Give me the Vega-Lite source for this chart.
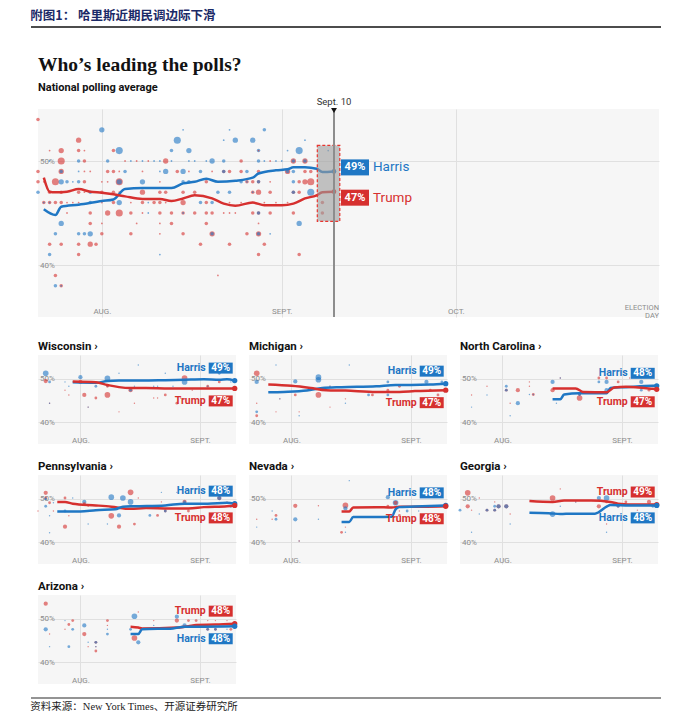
{
"$schema":"https://vega.github.io/schema/vega-lite/v6.json",
"background":"white",
"padding":{"left":30,"top":9,"right":5,"bottom":4},
"spacing":21,
"resolve":{"scale":{"size":"independent"}},
"config":{
 "view":{"stroke":null,"fill":"#f6f6f6"},
 "font":"Roboto",
 "axis":{"domain":false,"ticks":false,"tickSize":0,"grid":true,"gridColor":"#e0e0e0","gridWidth":1,"labelColor":"#8c8c8c","labelFont":"Roboto","labelFontSize":8,"labelOverlap":false,"labelFlush":false},
 "title":{"anchor":"start","frame":"group"}
},
"datasets":{
"natDots":[
{"c":"T","d":"2024-07-21","v":54,"z":2},
{"c":"H","d":"2024-08-01","v":53,"z":3},{"c":"H","d":"2024-08-15","v":53,"z":1},{"c":"H","d":"2024-08-23","v":53,"z":1},{"c":"H","d":"2024-08-29","v":53,"z":2},
{"c":"T","d":"2024-07-28","v":52,"z":3},{"c":"H","d":"2024-08-14","v":52,"z":4},{"c":"H","d":"2024-08-22","v":52,"z":1},{"c":"H","d":"2024-08-24","v":52,"z":3},{"c":"H","d":"2024-08-27","v":52,"z":3},{"c":"H","d":"2024-09-05","v":52,"z":1},
{"c":"T","d":"2024-07-23","v":51,"z":1},{"c":"T","d":"2024-07-25","v":51,"z":3},{"c":"T","d":"2024-07-28","v":51,"z":2},{"c":"T","d":"2024-07-29","v":51,"z":1},{"c":"T","d":"2024-08-03","v":51,"z":2},{"c":"H","d":"2024-08-04","v":51,"z":4},{"c":"H","d":"2024-08-13","v":51,"z":2},{"c":"H","d":"2024-08-16","v":51,"z":3},{"c":"H","d":"2024-08-28","v":51,"z":2},{"c":"T","d":"2024-08-28","v":51,"z":1},{"c":"H","d":"2024-09-02","v":51,"z":1},{"c":"H","d":"2024-09-04","v":51,"z":4},{"c":"H","d":"2024-09-09","v":51,"z":1},
{"c":"H","d":"2024-07-23","v":50,"z":1},{"c":"T","d":"2024-07-25","v":50,"z":4},{"c":"H","d":"2024-07-28","v":50,"z":2},{"c":"T","d":"2024-07-29","v":50,"z":2},{"c":"H","d":"2024-08-02","v":50,"z":2},{"c":"T","d":"2024-08-05","v":50,"z":1},{"c":"H","d":"2024-08-06","v":50,"z":1},{"c":"T","d":"2024-08-07","v":50,"z":1},{"c":"H","d":"2024-08-08","v":50,"z":1},{"c":"T","d":"2024-08-09","v":50,"z":1},{"c":"H","d":"2024-08-10","v":50,"z":1},{"c":"H","d":"2024-08-11","v":50,"z":1},{"c":"T","d":"2024-08-12","v":50,"z":3},{"c":"H","d":"2024-08-13","v":50,"z":1},{"c":"H","d":"2024-08-16","v":50,"z":1},{"c":"H","d":"2024-08-17","v":50,"z":1},{"c":"H","d":"2024-08-19","v":50,"z":1},{"c":"H","d":"2024-08-20","v":50,"z":3},{"c":"H","d":"2024-08-22","v":50,"z":2},{"c":"T","d":"2024-08-25","v":50,"z":2},{"c":"H","d":"2024-08-28","v":50,"z":2},{"c":"H","d":"2024-08-29","v":50,"z":1},{"c":"T","d":"2024-08-30","v":50,"z":1},{"c":"H","d":"2024-08-31","v":50,"z":1},{"c":"H","d":"2024-09-01","v":50,"z":1},{"c":"T","d":"2024-09-03","v":50,"z":3},{"c":"H","d":"2024-09-03","v":50,"z":2},{"c":"T","d":"2024-09-05","v":50,"z":3},{"c":"H","d":"2024-09-05","v":50,"z":2},
{"c":"T","d":"2024-07-21","v":49,"z":2},{"c":"T","d":"2024-07-25","v":49,"z":3},{"c":"H","d":"2024-07-25","v":49,"z":2},{"c":"H","d":"2024-07-28","v":49,"z":1},{"c":"T","d":"2024-07-29","v":49,"z":1},{"c":"T","d":"2024-07-30","v":49,"z":1},{"c":"T","d":"2024-08-02","v":49,"z":2},{"c":"T","d":"2024-08-03","v":49,"z":2},{"c":"T","d":"2024-08-04","v":49,"z":1},{"c":"H","d":"2024-08-05","v":49,"z":2},{"c":"T","d":"2024-08-08","v":49,"z":1},{"c":"H","d":"2024-08-11","v":49,"z":1},{"c":"H","d":"2024-08-12","v":49,"z":3},{"c":"T","d":"2024-08-14","v":49,"z":2},{"c":"H","d":"2024-08-15","v":49,"z":3},{"c":"T","d":"2024-08-16","v":49,"z":1},{"c":"H","d":"2024-08-18","v":49,"z":2},{"c":"T","d":"2024-08-20","v":49,"z":1},{"c":"T","d":"2024-08-22","v":49,"z":2},{"c":"H","d":"2024-08-22","v":49,"z":2},{"c":"T","d":"2024-08-23","v":49,"z":2},{"c":"T","d":"2024-08-25","v":49,"z":2},{"c":"H","d":"2024-08-26","v":49,"z":2},{"c":"T","d":"2024-08-28","v":49,"z":2},{"c":"T","d":"2024-09-02","v":49,"z":3},{"c":"H","d":"2024-09-02","v":49,"z":2},{"c":"H","d":"2024-09-03","v":49,"z":2},{"c":"T","d":"2024-09-05","v":49,"z":2},{"c":"T","d":"2024-09-06","v":49,"z":2},
{"c":"T","d":"2024-07-21","v":48,"z":2},{"c":"T","d":"2024-07-22","v":48,"z":1},{"c":"T","d":"2024-07-24","v":48,"z":4},{"c":"H","d":"2024-07-25","v":48,"z":3},{"c":"H","d":"2024-07-26","v":48,"z":2},{"c":"H","d":"2024-07-27","v":48,"z":1},{"c":"H","d":"2024-07-28","v":48,"z":2},{"c":"T","d":"2024-07-29","v":48,"z":2},{"c":"T","d":"2024-08-01","v":48,"z":1},{"c":"T","d":"2024-08-02","v":48,"z":1},{"c":"T","d":"2024-08-04","v":48,"z":4},{"c":"H","d":"2024-08-04","v":48,"z":3},{"c":"H","d":"2024-08-08","v":48,"z":3},{"c":"T","d":"2024-08-11","v":48,"z":1},{"c":"H","d":"2024-08-15","v":48,"z":2},{"c":"H","d":"2024-08-16","v":48,"z":2},{"c":"T","d":"2024-08-19","v":48,"z":2},{"c":"H","d":"2024-08-25","v":48,"z":2},{"c":"T","d":"2024-08-26","v":48,"z":2},{"c":"H","d":"2024-08-26","v":48,"z":1},{"c":"T","d":"2024-08-27","v":48,"z":2},{"c":"T","d":"2024-08-28","v":48,"z":2},{"c":"H","d":"2024-08-28","v":48,"z":2},{"c":"T","d":"2024-08-30","v":48,"z":1},{"c":"H","d":"2024-09-03","v":48,"z":2},{"c":"T","d":"2024-09-04","v":48,"z":2},{"c":"T","d":"2024-09-05","v":48,"z":3},{"c":"T","d":"2024-09-06","v":48,"z":4},
{"c":"H","d":"2024-07-21","v":47,"z":2},{"c":"T","d":"2024-07-23","v":47,"z":2},{"c":"T","d":"2024-07-25","v":47,"z":2},{"c":"T","d":"2024-07-28","v":47,"z":2},{"c":"T","d":"2024-07-29","v":47,"z":1},{"c":"H","d":"2024-07-30","v":47,"z":2},{"c":"T","d":"2024-08-01","v":47,"z":2},{"c":"T","d":"2024-08-03","v":47,"z":2},{"c":"T","d":"2024-08-04","v":47,"z":1},{"c":"T","d":"2024-08-08","v":47,"z":3},{"c":"T","d":"2024-08-11","v":47,"z":2},{"c":"T","d":"2024-08-12","v":47,"z":2},{"c":"T","d":"2024-08-15","v":47,"z":2},{"c":"T","d":"2024-08-17","v":47,"z":2},{"c":"H","d":"2024-08-21","v":47,"z":2},{"c":"H","d":"2024-08-23","v":47,"z":2},{"c":"T","d":"2024-08-27","v":47,"z":2},{"c":"H","d":"2024-08-27","v":47,"z":1},{"c":"T","d":"2024-08-28","v":47,"z":3},{"c":"T","d":"2024-08-30","v":47,"z":2},{"c":"T","d":"2024-09-03","v":47,"z":2},{"c":"H","d":"2024-09-03","v":47,"z":2},{"c":"T","d":"2024-09-04","v":47,"z":2},{"c":"H","d":"2024-09-06","v":47,"z":4},
{"c":"T","d":"2024-07-22","v":46,"z":2},{"c":"H","d":"2024-07-22","v":46,"z":1},{"c":"T","d":"2024-07-23","v":46,"z":2},{"c":"H","d":"2024-07-23","v":46,"z":1},{"c":"T","d":"2024-07-24","v":46,"z":2},{"c":"T","d":"2024-07-25","v":46,"z":2},{"c":"T","d":"2024-07-26","v":46,"z":1},{"c":"T","d":"2024-07-27","v":46,"z":1},{"c":"T","d":"2024-07-28","v":46,"z":1},{"c":"H","d":"2024-07-30","v":46,"z":2},{"c":"T","d":"2024-08-01","v":46,"z":1},{"c":"T","d":"2024-08-03","v":46,"z":2},{"c":"H","d":"2024-08-04","v":46,"z":3},{"c":"T","d":"2024-08-06","v":46,"z":1},{"c":"T","d":"2024-08-08","v":46,"z":2},{"c":"H","d":"2024-08-09","v":46,"z":1},{"c":"T","d":"2024-08-10","v":46,"z":2},{"c":"T","d":"2024-08-11","v":46,"z":2},{"c":"T","d":"2024-08-12","v":46,"z":1},{"c":"T","d":"2024-08-15","v":46,"z":3},{"c":"H","d":"2024-08-18","v":46,"z":2},{"c":"T","d":"2024-08-19","v":46,"z":2},{"c":"H","d":"2024-08-20","v":46,"z":2},{"c":"T","d":"2024-08-23","v":46,"z":1},{"c":"T","d":"2024-08-25","v":46,"z":1},{"c":"T","d":"2024-08-27","v":46,"z":1},{"c":"T","d":"2024-08-29","v":46,"z":1},{"c":"T","d":"2024-08-31","v":46,"z":1},{"c":"T","d":"2024-09-02","v":46,"z":1},{"c":"T","d":"2024-09-08","v":46,"z":2},
{"c":"T","d":"2024-07-26","v":45,"z":1},{"c":"T","d":"2024-07-30","v":45,"z":2},{"c":"T","d":"2024-08-02","v":45,"z":3},{"c":"T","d":"2024-08-04","v":45,"z":4},{"c":"T","d":"2024-08-06","v":45,"z":2},{"c":"T","d":"2024-08-08","v":45,"z":1},{"c":"H","d":"2024-08-09","v":45,"z":1},{"c":"T","d":"2024-08-11","v":45,"z":2},{"c":"T","d":"2024-08-13","v":45,"z":2},{"c":"T","d":"2024-08-15","v":45,"z":2},{"c":"H","d":"2024-08-15","v":45,"z":1},{"c":"T","d":"2024-08-17","v":45,"z":2},{"c":"T","d":"2024-08-19","v":45,"z":2},{"c":"T","d":"2024-08-20","v":45,"z":2},{"c":"T","d":"2024-08-22","v":45,"z":1},{"c":"T","d":"2024-08-23","v":45,"z":1},{"c":"T","d":"2024-08-24","v":45,"z":1},{"c":"T","d":"2024-08-27","v":45,"z":2},{"c":"T","d":"2024-08-28","v":45,"z":2},{"c":"H","d":"2024-08-28","v":45,"z":2},{"c":"T","d":"2024-08-30","v":45,"z":2},{"c":"T","d":"2024-09-03","v":45,"z":2},{"c":"T","d":"2024-09-08","v":45,"z":2},
{"c":"H","d":"2024-07-25","v":44,"z":3},{"c":"T","d":"2024-07-30","v":44,"z":2},{"c":"T","d":"2024-08-01","v":44,"z":1},{"c":"T","d":"2024-08-07","v":44,"z":1},{"c":"T","d":"2024-08-11","v":44,"z":1},{"c":"T","d":"2024-08-13","v":44,"z":2},{"c":"T","d":"2024-08-19","v":44,"z":2},{"c":"T","d":"2024-08-28","v":44,"z":1},{"c":"H","d":"2024-09-04","v":44,"z":3},
{"c":"H","d":"2024-07-24","v":43,"z":2},{"c":"H","d":"2024-07-28","v":43,"z":2},{"c":"H","d":"2024-07-29","v":43,"z":2},{"c":"H","d":"2024-07-30","v":43,"z":3},{"c":"T","d":"2024-08-01","v":43,"z":2},{"c":"T","d":"2024-08-06","v":43,"z":2},{"c":"T","d":"2024-08-11","v":43,"z":1},{"c":"T","d":"2024-08-15","v":43,"z":2},{"c":"T","d":"2024-08-20","v":43,"z":3},{"c":"H","d":"2024-08-20","v":43,"z":2},{"c":"T","d":"2024-08-26","v":43,"z":2},{"c":"T","d":"2024-08-28","v":43,"z":3},{"c":"H","d":"2024-08-28","v":43,"z":2},{"c":"H","d":"2024-08-30","v":43,"z":1},
{"c":"T","d":"2024-07-23","v":42,"z":2},{"c":"T","d":"2024-07-25","v":42,"z":2},{"c":"T","d":"2024-07-28","v":42,"z":2},{"c":"T","d":"2024-07-30","v":42,"z":3},{"c":"T","d":"2024-07-31","v":42,"z":2},{"c":"T","d":"2024-08-18","v":42,"z":2},{"c":"T","d":"2024-08-23","v":42,"z":2},{"c":"T","d":"2024-08-29","v":42,"z":2},
{"c":"H","d":"2024-07-23","v":41,"z":2},{"c":"T","d":"2024-07-28","v":41,"z":2},{"c":"H","d":"2024-08-11","v":41,"z":1},{"c":"T","d":"2024-08-28","v":41,"z":2},{"c":"T","d":"2024-09-04","v":41,"z":2},
{"c":"T","d":"2024-07-24","v":39,"z":2},{"c":"T","d":"2024-08-21","v":39,"z":1},
{"c":"H","d":"2024-07-24","v":38,"z":2},{"c":"T","d":"2024-07-25","v":38,"z":2},{"c":"H","d":"2024-07-25","v":38,"z":1}
],
"natLines":[
{"c":"H","d":"2024-07-22","v":45.35},{"c":"H","d":"2024-07-24","v":44.8},{"c":"H","d":"2024-07-25","v":45.6},{"c":"H","d":"2024-07-28","v":45.8},{"c":"H","d":"2024-08-01","v":46.15},{"c":"H","d":"2024-08-03","v":46.3},{"c":"H","d":"2024-08-05","v":47.3},{"c":"H","d":"2024-08-08","v":47.4},{"c":"H","d":"2024-08-13","v":47.4},{"c":"H","d":"2024-08-15","v":47.85},{"c":"H","d":"2024-08-17","v":48.0},{"c":"H","d":"2024-08-19","v":48.3},{"c":"H","d":"2024-08-21","v":48.0},{"c":"H","d":"2024-08-24","v":48.1},{"c":"H","d":"2024-08-27","v":48.4},{"c":"H","d":"2024-08-28","v":48.8},{"c":"H","d":"2024-08-31","v":49.1},{"c":"H","d":"2024-09-02","v":49.2},{"c":"H","d":"2024-09-03","v":49.4},{"c":"H","d":"2024-09-05","v":49.4},{"c":"H","d":"2024-09-07","v":49.25},{"c":"H","d":"2024-09-08","v":48.95},{"c":"H","d":"2024-09-10","v":49.0},
{"c":"T","d":"2024-07-22","v":48.4},{"c":"T","d":"2024-07-23","v":47.05},{"c":"T","d":"2024-07-24","v":47.0},{"c":"T","d":"2024-07-26","v":47.05},{"c":"T","d":"2024-07-28","v":47.3},{"c":"T","d":"2024-07-30","v":47.05},{"c":"T","d":"2024-08-01","v":46.95},{"c":"T","d":"2024-08-03","v":46.8},{"c":"T","d":"2024-08-05","v":46.6},{"c":"T","d":"2024-08-08","v":46.35},{"c":"T","d":"2024-08-11","v":46.35},{"c":"T","d":"2024-08-13","v":46.15},{"c":"T","d":"2024-08-15","v":46.4},{"c":"T","d":"2024-08-17","v":46.7},{"c":"T","d":"2024-08-20","v":46.4},{"c":"T","d":"2024-08-22","v":45.9},{"c":"T","d":"2024-08-24","v":45.7},{"c":"T","d":"2024-08-27","v":46.0},{"c":"T","d":"2024-08-29","v":45.75},{"c":"T","d":"2024-09-01","v":45.75},{"c":"T","d":"2024-09-03","v":45.9},{"c":"T","d":"2024-09-05","v":46.4},{"c":"T","d":"2024-09-07","v":46.7},{"c":"T","d":"2024-09-08","v":47.0},{"c":"T","d":"2024-09-10","v":47.05}
],
"natLabs":[
{"c":"H","d":"2024-09-10","v":49.0,"p":"49%","n":"Harris","l":true},
{"c":"T","d":"2024-09-10","v":47.05,"p":"47%","n":"Trump","l":false}
],
"states":[
{"g":"WI","k":"p","c":"H","d":"2024-07-23","v":51.3,"z":4},{"g":"WI","k":"p","c":"T","d":"2024-07-23","v":49.5,"z":3},{"g":"WI","k":"p","c":"H","d":"2024-07-24","v":49.3,"z":2},{"g":"WI","k":"p","c":"T","d":"2024-07-24","v":44.4,"z":1},{"g":"WI","k":"p","c":"H","d":"2024-07-24","v":44.4,"z":1},{"g":"WI","k":"p","c":"H","d":"2024-07-28","v":49.3,"z":1},{"g":"WI","k":"p","c":"T","d":"2024-07-28","v":47.4,"z":1},{"g":"WI","k":"p","c":"H","d":"2024-07-29","v":48.3,"z":1},{"g":"WI","k":"p","c":"T","d":"2024-07-29","v":46.3,"z":1},{"g":"WI","k":"p","c":"H","d":"2024-08-01","v":50.4,"z":3},{"g":"WI","k":"p","c":"T","d":"2024-08-01","v":49.3,"z":3},{"g":"WI","k":"p","c":"T","d":"2024-08-02","v":46.3,"z":3},{"g":"WI","k":"p","c":"T","d":"2024-08-03","v":43.5,"z":1},{"g":"WI","k":"p","c":"H","d":"2024-08-03","v":43.5,"z":1},{"g":"WI","k":"p","c":"H","d":"2024-08-05","v":48.3,"z":2},{"g":"WI","k":"p","c":"T","d":"2024-08-05","v":45.6,"z":2},{"g":"WI","k":"p","c":"H","d":"2024-08-08","v":50.1,"z":4},{"g":"WI","k":"p","c":"T","d":"2024-08-08","v":46.3,"z":4},{"g":"WI","k":"p","c":"T","d":"2024-08-08","v":48.3,"z":2},{"g":"WI","k":"p","c":"H","d":"2024-08-08","v":48.3,"z":1},{"g":"WI","k":"p","c":"H","d":"2024-08-11","v":51.3,"z":1},{"g":"WI","k":"p","c":"T","d":"2024-08-11","v":42.4,"z":1},{"g":"WI","k":"p","c":"T","d":"2024-08-14","v":47.4,"z":3},{"g":"WI","k":"p","c":"H","d":"2024-08-14","v":47.4,"z":2},{"g":"WI","k":"p","c":"H","d":"2024-08-15","v":48.3,"z":1},{"g":"WI","k":"p","c":"H","d":"2024-08-16","v":53.2,"z":1},{"g":"WI","k":"p","c":"T","d":"2024-08-15","v":44.4,"z":1},{"g":"WI","k":"p","c":"H","d":"2024-08-20","v":48.3,"z":1},{"g":"WI","k":"p","c":"T","d":"2024-08-20","v":45.6,"z":1},{"g":"WI","k":"p","c":"H","d":"2024-08-21","v":48.3,"z":1},{"g":"WI","k":"p","c":"T","d":"2024-08-21","v":45.6,"z":1},{"g":"WI","k":"p","c":"H","d":"2024-08-23","v":51.3,"z":1},{"g":"WI","k":"p","c":"T","d":"2024-08-23","v":46.3,"z":2},{"g":"WI","k":"p","c":"H","d":"2024-08-25","v":48.3,"z":1},{"g":"WI","k":"p","c":"T","d":"2024-08-26","v":44.4,"z":2},{"g":"WI","k":"p","c":"T","d":"2024-08-27","v":45.6,"z":1},{"g":"WI","k":"p","c":"T","d":"2024-08-28","v":50.2,"z":4},{"g":"WI","k":"p","c":"H","d":"2024-08-28","v":49.3,"z":4},{"g":"WI","k":"p","c":"T","d":"2024-08-30","v":47.4,"z":1},{"g":"WI","k":"p","c":"T","d":"2024-09-03","v":48.3,"z":2},{"g":"WI","k":"p","c":"H","d":"2024-09-03","v":48.3,"z":1},{"g":"WI","k":"p","c":"T","d":"2024-09-06","v":49.3,"z":2},{"g":"WI","k":"p","c":"H","d":"2024-09-06","v":51.3,"z":2},{"g":"WI","k":"p","c":"H","d":"2024-09-09","v":49.3,"z":1},
{"g":"WI","k":"l","c":"H","d":"2024-07-30","v":49.2},{"g":"WI","k":"l","c":"H","d":"2024-08-05","v":49.1},{"g":"WI","k":"l","c":"H","d":"2024-08-08","v":49.5},{"g":"WI","k":"l","c":"H","d":"2024-08-11","v":49.6},{"g":"WI","k":"l","c":"H","d":"2024-08-17","v":49.6},{"g":"WI","k":"l","c":"H","d":"2024-08-23","v":49.7},{"g":"WI","k":"l","c":"H","d":"2024-08-28","v":49.8},{"g":"WI","k":"l","c":"H","d":"2024-09-02","v":49.9},{"g":"WI","k":"l","c":"H","d":"2024-09-06","v":49.8},{"g":"WI","k":"l","c":"H","d":"2024-09-08","v":49.9},{"g":"WI","k":"l","c":"H","d":"2024-09-10","v":49.6},
{"g":"WI","k":"l","c":"T","d":"2024-07-30","v":49.4},{"g":"WI","k":"l","c":"T","d":"2024-08-05","v":49.2},{"g":"WI","k":"l","c":"T","d":"2024-08-08","v":48.6},{"g":"WI","k":"l","c":"T","d":"2024-08-11","v":48.1},{"g":"WI","k":"l","c":"T","d":"2024-08-14","v":47.9},{"g":"WI","k":"l","c":"T","d":"2024-08-18","v":47.9},{"g":"WI","k":"l","c":"T","d":"2024-08-24","v":47.8},{"g":"WI","k":"l","c":"T","d":"2024-08-31","v":47.8},{"g":"WI","k":"l","c":"T","d":"2024-09-06","v":47.8},{"g":"WI","k":"l","c":"T","d":"2024-09-10","v":47.8},
{"g":"WI","k":"b","c":"H","d":"2024-09-10","v":49.6,"p":"49%","n":"Harris","l":true},{"g":"WI","k":"b","c":"T","d":"2024-09-10","v":47.8,"p":"47%","n":"Trump","l":false},
{"g":"MI","k":"p","c":"T","d":"2024-07-23","v":51.3,"z":4},{"g":"MI","k":"p","c":"H","d":"2024-07-23","v":49.3,"z":3},{"g":"MI","k":"p","c":"T","d":"2024-07-23","v":44.4,"z":1},{"g":"MI","k":"p","c":"H","d":"2024-07-23","v":42.4,"z":2},{"g":"MI","k":"p","c":"T","d":"2024-07-23","v":41.5,"z":2},{"g":"MI","k":"p","c":"H","d":"2024-07-28","v":53.2,"z":1},{"g":"MI","k":"p","c":"T","d":"2024-07-28","v":42.4,"z":1},{"g":"MI","k":"p","c":"T","d":"2024-07-29","v":45.4,"z":1},{"g":"MI","k":"p","c":"H","d":"2024-07-29","v":45.4,"z":1},{"g":"MI","k":"p","c":"H","d":"2024-08-02","v":49.4,"z":3},{"g":"MI","k":"p","c":"T","d":"2024-08-02","v":46.3,"z":2},{"g":"MI","k":"p","c":"T","d":"2024-08-03","v":42.4,"z":1},{"g":"MI","k":"p","c":"H","d":"2024-08-03","v":41.5,"z":1},{"g":"MI","k":"p","c":"H","d":"2024-08-08","v":50.4,"z":4},{"g":"MI","k":"p","c":"H","d":"2024-08-08","v":49.8,"z":4},{"g":"MI","k":"p","c":"T","d":"2024-08-08","v":46.3,"z":4},{"g":"MI","k":"p","c":"T","d":"2024-08-11","v":43.5,"z":1},{"g":"MI","k":"p","c":"T","d":"2024-08-11","v":48.3,"z":1},{"g":"MI","k":"p","c":"H","d":"2024-08-11","v":48.3,"z":1},{"g":"MI","k":"p","c":"T","d":"2024-08-15","v":45.4,"z":1},{"g":"MI","k":"p","c":"H","d":"2024-08-15","v":44.4,"z":1},{"g":"MI","k":"p","c":"H","d":"2024-08-16","v":53.2,"z":1},{"g":"MI","k":"p","c":"H","d":"2024-08-21","v":46.3,"z":2},{"g":"MI","k":"p","c":"T","d":"2024-08-22","v":46.3,"z":2},{"g":"MI","k":"p","c":"H","d":"2024-08-26","v":49.3,"z":2},{"g":"MI","k":"p","c":"T","d":"2024-08-26","v":47.4,"z":2},{"g":"MI","k":"p","c":"H","d":"2024-08-26","v":46.3,"z":2},{"g":"MI","k":"p","c":"H","d":"2024-08-29","v":51.3,"z":1},{"g":"MI","k":"p","c":"T","d":"2024-08-29","v":48.3,"z":2},{"g":"MI","k":"p","c":"H","d":"2024-09-05","v":49.3,"z":3},{"g":"MI","k":"p","c":"H","d":"2024-09-05","v":51.3,"z":2},{"g":"MI","k":"p","c":"T","d":"2024-09-08","v":46.3,"z":2},{"g":"MI","k":"p","c":"T","d":"2024-09-06","v":47.4,"z":2},{"g":"MI","k":"p","c":"H","d":"2024-09-09","v":49.3,"z":2},
{"g":"MI","k":"l","c":"H","d":"2024-07-26","v":46.9},{"g":"MI","k":"l","c":"H","d":"2024-07-30","v":47.0},{"g":"MI","k":"l","c":"H","d":"2024-08-05","v":47.3},{"g":"MI","k":"l","c":"H","d":"2024-08-09","v":47.9},{"g":"MI","k":"l","c":"H","d":"2024-08-14","v":48.1},{"g":"MI","k":"l","c":"H","d":"2024-08-23","v":48.3},{"g":"MI","k":"l","c":"H","d":"2024-08-28","v":48.6},{"g":"MI","k":"l","c":"H","d":"2024-09-01","v":48.6},{"g":"MI","k":"l","c":"H","d":"2024-09-06","v":48.7},{"g":"MI","k":"l","c":"H","d":"2024-09-10","v":48.9},
{"g":"MI","k":"l","c":"T","d":"2024-07-26","v":48.7},{"g":"MI","k":"l","c":"T","d":"2024-08-01","v":48.4},{"g":"MI","k":"l","c":"T","d":"2024-08-06","v":47.9},{"g":"MI","k":"l","c":"T","d":"2024-08-10","v":47.4},{"g":"MI","k":"l","c":"T","d":"2024-08-15","v":47.3},{"g":"MI","k":"l","c":"T","d":"2024-08-23","v":47.0},{"g":"MI","k":"l","c":"T","d":"2024-08-29","v":47.0},{"g":"MI","k":"l","c":"T","d":"2024-09-02","v":47.2},{"g":"MI","k":"l","c":"T","d":"2024-09-10","v":47.4},
{"g":"MI","k":"b","c":"H","d":"2024-09-10","v":48.9,"p":"49%","n":"Harris","l":true},{"g":"MI","k":"b","c":"T","d":"2024-09-10","v":47.4,"p":"47%","n":"Trump","l":false},
{"g":"NC","k":"p","c":"H","d":"2024-07-24","v":43.5,"z":1},{"g":"NC","k":"p","c":"T","d":"2024-07-24","v":46.3,"z":1},{"g":"NC","k":"p","c":"T","d":"2024-07-28","v":48.3,"z":1},{"g":"NC","k":"p","c":"H","d":"2024-07-28","v":46.3,"z":1},{"g":"NC","k":"p","c":"H","d":"2024-08-02","v":48.3,"z":2},{"g":"NC","k":"p","c":"T","d":"2024-08-02","v":47.4,"z":2},{"g":"NC","k":"p","c":"H","d":"2024-08-02","v":47.4,"z":2},{"g":"NC","k":"p","c":"T","d":"2024-08-05","v":47.4,"z":3},{"g":"NC","k":"p","c":"H","d":"2024-08-05","v":44.4,"z":3},{"g":"NC","k":"p","c":"T","d":"2024-08-03","v":44.4,"z":1},{"g":"NC","k":"p","c":"H","d":"2024-08-03","v":41.5,"z":1},{"g":"NC","k":"p","c":"T","d":"2024-08-08","v":49.3,"z":1},{"g":"NC","k":"p","c":"T","d":"2024-08-08","v":48.3,"z":1},{"g":"NC","k":"p","c":"H","d":"2024-08-08","v":46.4,"z":1},{"g":"NC","k":"p","c":"T","d":"2024-08-09","v":46.4,"z":2},{"g":"NC","k":"p","c":"H","d":"2024-08-09","v":46.4,"z":1},{"g":"NC","k":"p","c":"H","d":"2024-08-14","v":49.3,"z":3},{"g":"NC","k":"p","c":"T","d":"2024-08-14","v":47.4,"z":3},{"g":"NC","k":"p","c":"T","d":"2024-08-16","v":50.2,"z":1},{"g":"NC","k":"p","c":"H","d":"2024-08-16","v":50.2,"z":1},{"g":"NC","k":"p","c":"H","d":"2024-08-15","v":44.4,"z":1},{"g":"NC","k":"p","c":"T","d":"2024-08-21","v":45.6,"z":4},{"g":"NC","k":"p","c":"T","d":"2024-08-21","v":46.4,"z":2},{"g":"NC","k":"p","c":"H","d":"2024-08-21","v":46.4,"z":2},{"g":"NC","k":"p","c":"T","d":"2024-08-26","v":50.2,"z":2},{"g":"NC","k":"p","c":"H","d":"2024-08-26","v":49.3,"z":2},{"g":"NC","k":"p","c":"T","d":"2024-08-28","v":50.2,"z":2},{"g":"NC","k":"p","c":"H","d":"2024-08-28","v":49.3,"z":3},{"g":"NC","k":"p","c":"H","d":"2024-08-28","v":47.4,"z":3},{"g":"NC","k":"p","c":"T","d":"2024-08-31","v":49.3,"z":2},{"g":"NC","k":"p","c":"T","d":"2024-09-03","v":50.2,"z":1},{"g":"NC","k":"p","c":"H","d":"2024-09-06","v":49.3,"z":3},{"g":"NC","k":"p","c":"T","d":"2024-09-08","v":47.4,"z":2},{"g":"NC","k":"p","c":"H","d":"2024-09-06","v":47.4,"z":2},
{"g":"NC","k":"l","c":"H","d":"2024-08-14","v":45.3},{"g":"NC","k":"l","c":"H","d":"2024-08-16","v":45.3},{"g":"NC","k":"l","c":"H","d":"2024-08-17","v":46.4},{"g":"NC","k":"l","c":"H","d":"2024-08-21","v":46.7},{"g":"NC","k":"l","c":"H","d":"2024-08-28","v":46.7},{"g":"NC","k":"l","c":"H","d":"2024-08-29","v":47.9},{"g":"NC","k":"l","c":"H","d":"2024-09-02","v":48.1},{"g":"NC","k":"l","c":"H","d":"2024-09-09","v":48.4},{"g":"NC","k":"l","c":"H","d":"2024-09-10","v":48.4},
{"g":"NC","k":"l","c":"T","d":"2024-08-14","v":47.8},{"g":"NC","k":"l","c":"T","d":"2024-08-20","v":47.8},{"g":"NC","k":"l","c":"T","d":"2024-08-22","v":47.0},{"g":"NC","k":"l","c":"T","d":"2024-08-28","v":46.9},{"g":"NC","k":"l","c":"T","d":"2024-08-30","v":48.0},{"g":"NC","k":"l","c":"T","d":"2024-09-02","v":48.2},{"g":"NC","k":"l","c":"T","d":"2024-09-09","v":47.7},{"g":"NC","k":"l","c":"T","d":"2024-09-10","v":47.6},
{"g":"NC","k":"b","c":"H","d":"2024-09-10","v":48.4,"p":"48%","n":"Harris","l":true},{"g":"NC","k":"b","c":"T","d":"2024-09-10","v":47.6,"p":"47%","n":"Trump","l":false},
{"g":"PA","k":"p","c":"T","d":"2024-07-23","v":51.4,"z":3},{"g":"PA","k":"p","c":"T","d":"2024-07-23","v":50.2,"z":2},{"g":"PA","k":"p","c":"H","d":"2024-07-23","v":50.0,"z":2},{"g":"PA","k":"p","c":"T","d":"2024-07-24","v":49.1,"z":2},{"g":"PA","k":"p","c":"H","d":"2024-07-25","v":49.1,"z":1},{"g":"PA","k":"p","c":"T","d":"2024-07-25","v":47.2,"z":1},{"g":"PA","k":"p","c":"H","d":"2024-07-23","v":48.3,"z":2},{"g":"PA","k":"p","c":"H","d":"2024-07-24","v":46.1,"z":1},{"g":"PA","k":"p","c":"H","d":"2024-07-24","v":42.2,"z":1},{"g":"PA","k":"p","c":"T","d":"2024-07-21","v":47.2,"z":1},{"g":"PA","k":"p","c":"T","d":"2024-07-28","v":50.2,"z":2},{"g":"PA","k":"p","c":"H","d":"2024-07-28","v":47.2,"z":2},{"g":"PA","k":"p","c":"T","d":"2024-07-28","v":43.6,"z":3},{"g":"PA","k":"p","c":"T","d":"2024-07-29","v":49.1,"z":1},{"g":"PA","k":"p","c":"T","d":"2024-07-29","v":46.1,"z":1},{"g":"PA","k":"p","c":"H","d":"2024-07-30","v":50.2,"z":1},{"g":"PA","k":"p","c":"H","d":"2024-08-02","v":49.3,"z":3},{"g":"PA","k":"p","c":"T","d":"2024-08-02","v":48.9,"z":2},{"g":"PA","k":"p","c":"T","d":"2024-08-03","v":48.3,"z":1},{"g":"PA","k":"p","c":"H","d":"2024-08-03","v":44.2,"z":1},{"g":"PA","k":"p","c":"H","d":"2024-08-09","v":50.4,"z":4},{"g":"PA","k":"p","c":"T","d":"2024-08-09","v":46.1,"z":4},{"g":"PA","k":"p","c":"H","d":"2024-08-08","v":44.2,"z":1},{"g":"PA","k":"p","c":"T","d":"2024-08-11","v":43.6,"z":3},{"g":"PA","k":"p","c":"H","d":"2024-08-12","v":50.2,"z":4},{"g":"PA","k":"p","c":"H","d":"2024-08-11","v":46.2,"z":3},{"g":"PA","k":"p","c":"T","d":"2024-08-14","v":51.5,"z":4},{"g":"PA","k":"p","c":"H","d":"2024-08-14","v":49.3,"z":4},{"g":"PA","k":"p","c":"T","d":"2024-08-15","v":44.2,"z":2},{"g":"PA","k":"p","c":"T","d":"2024-08-16","v":50.2,"z":1},{"g":"PA","k":"p","c":"H","d":"2024-08-16","v":48.3,"z":1},{"g":"PA","k":"p","c":"H","d":"2024-08-19","v":46.2,"z":2},{"g":"PA","k":"p","c":"T","d":"2024-08-21","v":46.2,"z":2},{"g":"PA","k":"p","c":"H","d":"2024-08-22","v":51.5,"z":1},{"g":"PA","k":"p","c":"T","d":"2024-08-22","v":49.3,"z":1},{"g":"PA","k":"p","c":"T","d":"2024-08-23","v":47.2,"z":2},{"g":"PA","k":"p","c":"H","d":"2024-08-23","v":47.2,"z":2},{"g":"PA","k":"p","c":"H","d":"2024-08-26","v":51.5,"z":1},{"g":"PA","k":"p","c":"T","d":"2024-08-28","v":49.3,"z":3},{"g":"PA","k":"p","c":"H","d":"2024-08-28","v":49.3,"z":2},{"g":"PA","k":"p","c":"T","d":"2024-08-29","v":47.2,"z":2},{"g":"PA","k":"p","c":"H","d":"2024-09-02","v":52.1,"z":1},{"g":"PA","k":"p","c":"H","d":"2024-09-05","v":52.1,"z":2},{"g":"PA","k":"p","c":"T","d":"2024-09-06","v":50.2,"z":3},{"g":"PA","k":"p","c":"H","d":"2024-09-06","v":50.2,"z":3},{"g":"PA","k":"p","c":"T","d":"2024-09-08","v":49.3,"z":1},{"g":"PA","k":"p","c":"H","d":"2024-09-09","v":48.3,"z":2},
{"g":"PA","k":"l","c":"T","d":"2024-07-26","v":49.3},{"g":"PA","k":"l","c":"T","d":"2024-07-28","v":49.3},{"g":"PA","k":"l","c":"T","d":"2024-07-30","v":48.9},{"g":"PA","k":"l","c":"T","d":"2024-08-05","v":48.5},{"g":"PA","k":"l","c":"T","d":"2024-08-09","v":48.2},{"g":"PA","k":"l","c":"T","d":"2024-08-14","v":47.7},{"g":"PA","k":"l","c":"T","d":"2024-08-18","v":47.9},{"g":"PA","k":"l","c":"T","d":"2024-08-24","v":47.8},{"g":"PA","k":"l","c":"T","d":"2024-08-29","v":47.8},{"g":"PA","k":"l","c":"T","d":"2024-09-02","v":48.1},{"g":"PA","k":"l","c":"T","d":"2024-09-08","v":48.3},{"g":"PA","k":"l","c":"T","d":"2024-09-10","v":48.5},
{"g":"PA","k":"l","c":"H","d":"2024-07-26","v":47.1},{"g":"PA","k":"l","c":"H","d":"2024-08-01","v":47.1},{"g":"PA","k":"l","c":"H","d":"2024-08-05","v":47.4},{"g":"PA","k":"l","c":"H","d":"2024-08-10","v":47.6},{"g":"PA","k":"l","c":"H","d":"2024-08-12","v":48.2},{"g":"PA","k":"l","c":"H","d":"2024-08-15","v":48.3},{"g":"PA","k":"l","c":"H","d":"2024-08-23","v":48.5},{"g":"PA","k":"l","c":"H","d":"2024-08-28","v":48.9},{"g":"PA","k":"l","c":"H","d":"2024-09-03","v":48.9},{"g":"PA","k":"l","c":"H","d":"2024-09-08","v":49.1},{"g":"PA","k":"l","c":"H","d":"2024-09-10","v":48.9},
{"g":"PA","k":"b","c":"H","d":"2024-09-10","v":48.9,"p":"48%","n":"Harris","l":true},{"g":"PA","k":"b","c":"T","d":"2024-09-10","v":48.5,"p":"48%","n":"Trump","l":false},
{"g":"NV","k":"p","c":"T","d":"2024-07-23","v":45.3,"z":1},{"g":"NV","k":"p","c":"H","d":"2024-07-23","v":43.5,"z":1},{"g":"NV","k":"p","c":"H","d":"2024-07-27","v":47.2,"z":1},{"g":"NV","k":"p","c":"T","d":"2024-07-27","v":45.3,"z":1},{"g":"NV","k":"p","c":"H","d":"2024-07-28","v":45.3,"z":2},{"g":"NV","k":"p","c":"T","d":"2024-07-28","v":46.2,"z":2},{"g":"NV","k":"p","c":"T","d":"2024-08-02","v":48.4,"z":3},{"g":"NV","k":"p","c":"H","d":"2024-08-02","v":45.3,"z":3},{"g":"NV","k":"p","c":"H","d":"2024-08-03","v":40.3,"z":1},{"g":"NV","k":"p","c":"T","d":"2024-08-03","v":40.3,"z":1},{"g":"NV","k":"p","c":"T","d":"2024-08-08","v":48.4,"z":1},{"g":"NV","k":"p","c":"H","d":"2024-08-08","v":45.3,"z":1},{"g":"NV","k":"p","c":"T","d":"2024-08-15","v":48.5,"z":4},{"g":"NV","k":"p","c":"H","d":"2024-08-15","v":47.8,"z":3},{"g":"NV","k":"p","c":"T","d":"2024-08-14","v":42.3,"z":2},{"g":"NV","k":"p","c":"H","d":"2024-08-15","v":42.3,"z":1},{"g":"NV","k":"p","c":"T","d":"2024-08-15","v":43.5,"z":1},{"g":"NV","k":"p","c":"H","d":"2024-08-16","v":54.2,"z":1},{"g":"NV","k":"p","c":"H","d":"2024-08-26","v":50.4,"z":3},{"g":"NV","k":"p","c":"H","d":"2024-08-28","v":49.1,"z":4},{"g":"NV","k":"p","c":"T","d":"2024-08-28","v":49.1,"z":3},{"g":"NV","k":"p","c":"T","d":"2024-08-26","v":48.3,"z":2},{"g":"NV","k":"p","c":"T","d":"2024-08-29","v":47.2,"z":1},{"g":"NV","k":"p","c":"H","d":"2024-08-31","v":47.2,"z":2},{"g":"NV","k":"p","c":"H","d":"2024-09-03","v":47.2,"z":1},{"g":"NV","k":"p","c":"T","d":"2024-08-29","v":46.2,"z":2},
{"g":"NV","k":"l","c":"T","d":"2024-08-14","v":47.1},{"g":"NV","k":"l","c":"T","d":"2024-08-16","v":47.1},{"g":"NV","k":"l","c":"T","d":"2024-08-17","v":48.0},{"g":"NV","k":"l","c":"T","d":"2024-08-23","v":48.1},{"g":"NV","k":"l","c":"T","d":"2024-08-27","v":48.0},{"g":"NV","k":"l","c":"T","d":"2024-08-29","v":48.2},{"g":"NV","k":"l","c":"T","d":"2024-09-04","v":48.2},{"g":"NV","k":"l","c":"T","d":"2024-09-10","v":48.3},
{"g":"NV","k":"l","c":"H","d":"2024-08-14","v":44.7},{"g":"NV","k":"l","c":"H","d":"2024-08-16","v":44.7},{"g":"NV","k":"l","c":"H","d":"2024-08-17","v":45.8},{"g":"NV","k":"l","c":"H","d":"2024-08-27","v":45.9},{"g":"NV","k":"l","c":"H","d":"2024-08-28","v":47.6},{"g":"NV","k":"l","c":"H","d":"2024-08-29","v":48.1},{"g":"NV","k":"l","c":"H","d":"2024-09-04","v":48.3},{"g":"NV","k":"l","c":"H","d":"2024-09-10","v":48.5},
{"g":"NV","k":"b","c":"H","d":"2024-09-10","v":48.5,"p":"48%","n":"Harris","l":true},{"g":"NV","k":"b","c":"T","d":"2024-09-10","v":48.3,"p":"48%","n":"Trump","l":false},
{"g":"GA","k":"p","c":"T","d":"2024-07-23","v":51.4,"z":4},{"g":"GA","k":"p","c":"T","d":"2024-07-23","v":48.3,"z":3},{"g":"GA","k":"p","c":"H","d":"2024-07-21","v":47.4,"z":2},{"g":"GA","k":"p","c":"T","d":"2024-07-24","v":47.4,"z":1},{"g":"GA","k":"p","c":"H","d":"2024-07-24","v":42.3,"z":1},{"g":"GA","k":"p","c":"T","d":"2024-07-26","v":50.2,"z":1},{"g":"GA","k":"p","c":"H","d":"2024-07-26","v":46.5,"z":1},{"g":"GA","k":"p","c":"T","d":"2024-07-28","v":47.4,"z":2},{"g":"GA","k":"p","c":"H","d":"2024-07-28","v":47.4,"z":2},{"g":"GA","k":"p","c":"T","d":"2024-07-30","v":47.4,"z":2},{"g":"GA","k":"p","c":"H","d":"2024-07-30","v":47.4,"z":2},{"g":"GA","k":"p","c":"H","d":"2024-07-30","v":48.3,"z":2},{"g":"GA","k":"p","c":"T","d":"2024-07-30","v":49.3,"z":1},{"g":"GA","k":"p","c":"T","d":"2024-07-31","v":48.3,"z":3},{"g":"GA","k":"p","c":"H","d":"2024-07-31","v":48.3,"z":3},{"g":"GA","k":"p","c":"T","d":"2024-08-02","v":48.3,"z":3},{"g":"GA","k":"p","c":"H","d":"2024-08-02","v":48.3,"z":3},{"g":"GA","k":"p","c":"T","d":"2024-08-03","v":46.5,"z":1},{"g":"GA","k":"p","c":"H","d":"2024-08-03","v":44.2,"z":1},{"g":"GA","k":"p","c":"T","d":"2024-08-14","v":50.2,"z":4},{"g":"GA","k":"p","c":"H","d":"2024-08-14","v":46.5,"z":4},{"g":"GA","k":"p","c":"T","d":"2024-08-16","v":52.3,"z":1},{"g":"GA","k":"p","c":"H","d":"2024-08-16","v":48.3,"z":1},{"g":"GA","k":"p","c":"T","d":"2024-08-20","v":49.3,"z":1},{"g":"GA","k":"p","c":"H","d":"2024-08-20","v":49.3,"z":1},{"g":"GA","k":"p","c":"H","d":"2024-08-26","v":50.2,"z":3},{"g":"GA","k":"p","c":"T","d":"2024-08-26","v":48.3,"z":3},{"g":"GA","k":"p","c":"H","d":"2024-08-28","v":50.2,"z":4},{"g":"GA","k":"p","c":"T","d":"2024-08-28","v":49.3,"z":2},{"g":"GA","k":"p","c":"T","d":"2024-08-28","v":44.2,"z":1},{"g":"GA","k":"p","c":"H","d":"2024-08-28","v":42.3,"z":1},{"g":"GA","k":"p","c":"T","d":"2024-08-31","v":48.3,"z":2},{"g":"GA","k":"p","c":"H","d":"2024-08-31","v":48.3,"z":2},{"g":"GA","k":"p","c":"T","d":"2024-09-02","v":49.3,"z":2},{"g":"GA","k":"p","c":"T","d":"2024-09-05","v":47.4,"z":1},{"g":"GA","k":"p","c":"T","d":"2024-09-08","v":49.3,"z":3},{"g":"GA","k":"p","c":"H","d":"2024-09-09","v":48.3,"z":2},
{"g":"GA","k":"l","c":"T","d":"2024-08-08","v":49.5},{"g":"GA","k":"l","c":"T","d":"2024-08-14","v":49.3},{"g":"GA","k":"l","c":"T","d":"2024-08-17","v":49.6},{"g":"GA","k":"l","c":"T","d":"2024-08-24","v":49.6},{"g":"GA","k":"l","c":"T","d":"2024-08-29","v":49.3},{"g":"GA","k":"l","c":"T","d":"2024-08-31","v":48.9},{"g":"GA","k":"l","c":"T","d":"2024-09-05","v":48.7},{"g":"GA","k":"l","c":"T","d":"2024-09-10","v":48.7},
{"g":"GA","k":"l","c":"H","d":"2024-08-08","v":46.8},{"g":"GA","k":"l","c":"H","d":"2024-08-13","v":46.7},{"g":"GA","k":"l","c":"H","d":"2024-08-16","v":46.5},{"g":"GA","k":"l","c":"H","d":"2024-08-19","v":46.6},{"g":"GA","k":"l","c":"H","d":"2024-08-25","v":46.6},{"g":"GA","k":"l","c":"H","d":"2024-08-28","v":48.2},{"g":"GA","k":"l","c":"H","d":"2024-08-29","v":48.6},{"g":"GA","k":"l","c":"H","d":"2024-09-03","v":48.5},{"g":"GA","k":"l","c":"H","d":"2024-09-10","v":48.5},
{"g":"GA","k":"b","c":"T","d":"2024-09-10","v":48.7,"p":"49%","n":"Trump","l":true},{"g":"GA","k":"b","c":"H","d":"2024-09-10","v":48.5,"p":"48%","n":"Harris","l":false},
{"g":"AZ","k":"p","c":"T","d":"2024-07-23","v":53.5,"z":3},{"g":"AZ","k":"p","c":"H","d":"2024-07-23","v":47.6,"z":3},{"g":"AZ","k":"p","c":"T","d":"2024-07-24","v":46.5,"z":1},{"g":"AZ","k":"p","c":"H","d":"2024-07-24","v":43.6,"z":1},{"g":"AZ","k":"p","c":"H","d":"2024-07-28","v":49.6,"z":1},{"g":"AZ","k":"p","c":"T","d":"2024-07-28","v":47.6,"z":1},{"g":"AZ","k":"p","c":"T","d":"2024-07-29","v":48.7,"z":2},{"g":"AZ","k":"p","c":"H","d":"2024-07-29","v":43.6,"z":2},{"g":"AZ","k":"p","c":"T","d":"2024-07-30","v":49.6,"z":2},{"g":"AZ","k":"p","c":"H","d":"2024-07-30","v":47.6,"z":2},{"g":"AZ","k":"p","c":"H","d":"2024-08-02","v":48.5,"z":3},{"g":"AZ","k":"p","c":"T","d":"2024-08-02","v":46.5,"z":3},{"g":"AZ","k":"p","c":"H","d":"2024-08-03","v":44.6,"z":1},{"g":"AZ","k":"p","c":"T","d":"2024-08-03","v":43.6,"z":1},{"g":"AZ","k":"p","c":"T","d":"2024-08-05","v":44.6,"z":2},{"g":"AZ","k":"p","c":"H","d":"2024-08-05","v":44.6,"z":2},{"g":"AZ","k":"p","c":"T","d":"2024-08-05","v":43.6,"z":1},{"g":"AZ","k":"p","c":"H","d":"2024-08-05","v":43.6,"z":1},{"g":"AZ","k":"p","c":"T","d":"2024-08-05","v":42.6,"z":2},{"g":"AZ","k":"p","c":"T","d":"2024-08-08","v":49.6,"z":2},{"g":"AZ","k":"p","c":"T","d":"2024-08-08","v":48.5,"z":1},{"g":"AZ","k":"p","c":"H","d":"2024-08-08","v":47.6,"z":1},{"g":"AZ","k":"p","c":"H","d":"2024-08-08","v":46.5,"z":2},{"g":"AZ","k":"p","c":"H","d":"2024-08-15","v":50.6,"z":4},{"g":"AZ","k":"p","c":"T","d":"2024-08-16","v":51.6,"z":1},{"g":"AZ","k":"p","c":"H","d":"2024-08-14","v":47.6,"z":2},{"g":"AZ","k":"p","c":"T","d":"2024-08-15","v":45.6,"z":4},{"g":"AZ","k":"p","c":"H","d":"2024-08-16","v":44.6,"z":3},{"g":"AZ","k":"p","c":"T","d":"2024-08-20","v":49.6,"z":1},{"g":"AZ","k":"p","c":"H","d":"2024-08-20","v":48.5,"z":1},{"g":"AZ","k":"p","c":"H","d":"2024-08-26","v":50.5,"z":3},{"g":"AZ","k":"p","c":"T","d":"2024-08-26","v":49.6,"z":3},{"g":"AZ","k":"p","c":"H","d":"2024-08-28","v":48.5,"z":3},{"g":"AZ","k":"p","c":"T","d":"2024-08-29","v":49.6,"z":2},{"g":"AZ","k":"p","c":"T","d":"2024-08-31","v":49.6,"z":2},{"g":"AZ","k":"p","c":"T","d":"2024-09-03","v":49.6,"z":1},{"g":"AZ","k":"p","c":"T","d":"2024-09-05","v":49.6,"z":1},{"g":"AZ","k":"p","c":"T","d":"2024-09-08","v":49.6,"z":1},{"g":"AZ","k":"p","c":"T","d":"2024-09-03","v":47.6,"z":2},{"g":"AZ","k":"p","c":"H","d":"2024-09-03","v":47.6,"z":2},{"g":"AZ","k":"p","c":"T","d":"2024-09-05","v":47.6,"z":2},{"g":"AZ","k":"p","c":"H","d":"2024-09-05","v":47.6,"z":2},{"g":"AZ","k":"p","c":"H","d":"2024-09-08","v":47.6,"z":1},{"g":"AZ","k":"p","c":"T","d":"2024-09-09","v":47.6,"z":2},
{"g":"AZ","k":"l","c":"T","d":"2024-08-14","v":48.2},{"g":"AZ","k":"l","c":"T","d":"2024-08-16","v":48.0},{"g":"AZ","k":"l","c":"T","d":"2024-08-17","v":47.8},{"g":"AZ","k":"l","c":"T","d":"2024-08-26","v":48.0},{"g":"AZ","k":"l","c":"T","d":"2024-08-29","v":48.3},{"g":"AZ","k":"l","c":"T","d":"2024-08-31","v":48.6},{"g":"AZ","k":"l","c":"T","d":"2024-09-05","v":48.7},{"g":"AZ","k":"l","c":"T","d":"2024-09-10","v":48.9},
{"g":"AZ","k":"l","c":"H","d":"2024-08-14","v":46.5},{"g":"AZ","k":"l","c":"H","d":"2024-08-16","v":46.5},{"g":"AZ","k":"l","c":"H","d":"2024-08-17","v":47.6},{"g":"AZ","k":"l","c":"H","d":"2024-08-25","v":47.8},{"g":"AZ","k":"l","c":"H","d":"2024-08-28","v":48.2},{"g":"AZ","k":"l","c":"H","d":"2024-08-31","v":48.2},{"g":"AZ","k":"l","c":"H","d":"2024-09-10","v":48.3},
{"g":"AZ","k":"b","c":"T","d":"2024-09-10","v":48.9,"p":"48%","n":"Trump","l":true},{"g":"AZ","k":"b","c":"H","d":"2024-09-10","v":48.3,"p":"48%","n":"Harris","l":false}
]
},
"vconcat":[
{
 "width":623,"height":6,
 "view":{"fill":"transparent","stroke":null},
 "title":{"text":"附图1：  哈里斯近期民调边际下滑","frame":"bounds","font":"Noto Sans CJK SC","fontSize":12.5,"fontWeight":"bold","color":"#1b2a68","offset":4},
 "data":{"values":[{}]},
 "mark":{"type":"rule","color":"#111111","strokeWidth":1.3,"xOffset":-7},
 "encoding":{
  "x":{"datum":0,"type":"quantitative","scale":{"domain":[0,1]},"axis":null},
  "x2":{"datum":1},
  "y":{"datum":1,"type":"quantitative","scale":{"domain":[0,1]},"axis":null}
 }
},
{
 "width":621,"height":208,
 "title":{"text":"Who’s leading the polls?","subtitle":"National polling average","font":"Liberation Serif","fontSize":19.5,"fontWeight":"bold","color":"#121212","subtitleFont":"Roboto","subtitleFontSize":11,"subtitleFontWeight":"bold","subtitleColor":"#121212","subtitlePadding":7,"offset":3},
 "layer":[
  {"data":{"name":"natDots"},"mark":{"type":"circle","opacity":0.6},
   "encoding":{
    "x":{"field":"d","type":"temporal","title":null,"scale":{"type":"utc","nice":false,"domain":[{"year":2024,"month":7,"date":21,"utc":true},{"year":2024,"month":11,"date":5,"utc":true}]},
         "axis":{"values":[{"year":2024,"month":8,"date":1,"utc":true},{"year":2024,"month":9,"date":1,"utc":true},{"year":2024,"month":10,"date":1,"utc":true}],"labelExpr":"utcmonth(datum.value)==7?'AUG.':utcmonth(datum.value)==8?'SEPT.':'OCT.'","labelPadding":-4,"labelBaseline":"alphabetic","labelAlign":"center"}},
    "y":{"field":"v","type":"quantitative","title":null,"scale":{"domain":[35,55],"nice":false,"zero":false},
         "axis":{"values":[40,50],"labelExpr":"datum.value+'%'","labelAlign":"left","labelBaseline":"middle","labelPadding":-1.5}},
    "color":{"field":"c","type":"nominal","scale":{"domain":["H","T"],"range":["#1f77c4","#d6302f"]},"legend":null},
    "size":{"field":"z","type":"quantitative","scale":{"type":"pow","exponent":2,"domain":[0,4],"range":[0,50]},"legend":null}
   }},
  {"data":{"name":"natLines"},"mark":{"type":"line","strokeWidth":2.5,"interpolate":"monotone"},
   "encoding":{"x":{"field":"d","type":"temporal"},"y":{"field":"v","type":"quantitative"},"color":{"field":"c","type":"nominal"}}},
  {"data":{"name":"natLabs"},"mark":{"type":"circle","size":22,"opacity":1},
   "encoding":{"x":{"field":"d","type":"temporal"},"y":{"field":"v","type":"quantitative"},"color":{"field":"c","type":"nominal"}}},
  {"data":{"values":[{"x1":"2024-09-07T03:00:00Z","x2":"2024-09-11T00:00:00Z","y1":51.5,"y2":44.2}]},
   "mark":{"type":"rect","fill":"#9c9c9c","fillOpacity":0.6,"stroke":"#e8352f","strokeDash":[3,2],"strokeWidth":1.2},
   "encoding":{"x":{"field":"x1","type":"temporal"},"x2":{"field":"x2"},"y":{"field":"y1","type":"quantitative"},"y2":{"field":"y2"}}},
  {"data":{"values":[{}]},"mark":{"type":"rule","color":"#8d8d8d","strokeWidth":2},
   "encoding":{"x":{"datum":{"year":2024,"month":9,"date":10,"utc":true},"type":"temporal"}}},
  {"data":{"values":[{}]},"mark":{"type":"point","shape":"triangle-down","filled":true,"color":"#111111","size":35,"opacity":1,"yOffset":1.5},
   "encoding":{"x":{"datum":{"year":2024,"month":9,"date":10,"utc":true},"type":"temporal"},"y":{"datum":55,"type":"quantitative"}}},
  {"data":{"values":[{}]},"mark":{"type":"text","text":"Sept. 10","fontSize":9.5,"color":"#333333","baseline":"alphabetic","dy":-4},
   "encoding":{"x":{"datum":{"year":2024,"month":9,"date":10,"utc":true},"type":"temporal"},"y":{"datum":55,"type":"quantitative"}}},
  {"data":{"values":[{}]},"mark":{"type":"text","text":["ELECTION","DAY"],"align":"right","baseline":"bottom","fontSize":7.5,"lineHeight":7.5,"color":"#8c8c8c","dy":-5},
   "encoding":{"x":{"datum":{"year":2024,"month":11,"date":5,"utc":true},"type":"temporal"},"y":{"datum":35,"type":"quantitative"}}},
  {"data":{"name":"natLabs"},"transform":[{"filter":"datum.l"}],"mark":{"type":"point","shape":"M-1,-0.5714H1V0.5714H-1Z","size":784,"filled":true,"opacity":1,"xOffset":21,"yOffset":-4},
   "encoding":{"x":{"field":"d","type":"temporal"},"y":{"field":"v","type":"quantitative"},"color":{"field":"c","type":"nominal"}}},
  {"data":{"name":"natLabs"},"transform":[{"filter":"!datum.l"}],"mark":{"type":"point","shape":"M-1,-0.5714H1V0.5714H-1Z","size":784,"filled":true,"opacity":1,"xOffset":21,"yOffset":6},
   "encoding":{"x":{"field":"d","type":"temporal"},"y":{"field":"v","type":"quantitative"},"color":{"field":"c","type":"nominal"}}},
  {"data":{"name":"natLabs"},"transform":[{"filter":"datum.l"}],"mark":{"type":"text","fontSize":11,"fontWeight":"bold","color":"white","align":"center","baseline":"middle","xOffset":21,"yOffset":-4},
   "encoding":{"x":{"field":"d","type":"temporal"},"y":{"field":"v","type":"quantitative"},"text":{"field":"p"}}},
  {"data":{"name":"natLabs"},"transform":[{"filter":"!datum.l"}],"mark":{"type":"text","fontSize":11,"fontWeight":"bold","color":"white","align":"center","baseline":"middle","xOffset":21,"yOffset":6},
   "encoding":{"x":{"field":"d","type":"temporal"},"y":{"field":"v","type":"quantitative"},"text":{"field":"p"}}},
  {"data":{"name":"natLabs"},"transform":[{"filter":"datum.l"}],"mark":{"type":"text","fontSize":13.5,"align":"left","baseline":"middle","xOffset":39,"yOffset":-4},
   "encoding":{"x":{"field":"d","type":"temporal"},"y":{"field":"v","type":"quantitative"},"text":{"field":"n"},"color":{"field":"c","type":"nominal"}}},
  {"data":{"name":"natLabs"},"transform":[{"filter":"!datum.l"}],"mark":{"type":"text","fontSize":13.5,"align":"left","baseline":"middle","xOffset":39,"yOffset":6},
   "encoding":{"x":{"field":"d","type":"temporal"},"y":{"field":"v","type":"quantitative"},"text":{"field":"n"},"color":{"field":"c","type":"nominal"}}}
 ]
},
{
 "spacing":12,
 "vconcat":[
  {
   "data":{"name":"states"},
   "facet":{"field":"g","type":"nominal","title":null,"sort":["WI","MI","NC","PA","NV","GA","AZ"],
     "header":{"labelExpr":"{'WI':'Wisconsin','MI':'Michigan','NC':'North Carolina','PA':'Pennsylvania','NV':'Nevada','GA':'Georgia','AZ':'Arizona'}[datum.value] + ' ›'","labelFont":"Roboto","labelFontSize":11.5,"labelFontWeight":"bold","labelColor":"#121212","labelAnchor":"start","labelAlign":"left","labelPadding":3,"labelOrient":"top"}},
   "columns":3,
   "spacing":{"row":15,"column":7},
   "resolve":{"axis":{"x":"independent","y":"independent"}},
   "spec":{
    "width":198,"height":89,
    "layer":[
     {"transform":[{"filter":"datum.k=='p'"}],"mark":{"type":"circle","opacity":0.6},
      "encoding":{
       "x":{"field":"d","type":"temporal","title":null,"scale":{"type":"utc","nice":false,"domain":[{"year":2024,"month":7,"date":21,"utc":true},{"year":2024,"month":9,"date":10,"hours":8,"utc":true}]},
            "axis":{"values":[{"year":2024,"month":8,"date":1,"utc":true},{"year":2024,"month":9,"date":1,"utc":true}],"labelExpr":"utcmonth(datum.value)==7?'AUG.':'SEPT.'","labelPadding":-1.5,"labelBaseline":"alphabetic","labelAlign":"center"}},
       "y":{"field":"v","type":"quantitative","title":null,"scale":{"domain":[35,55.5],"nice":false,"zero":false},
            "axis":{"values":[40,50],"labelExpr":"datum.value+'%'","labelAlign":"left","labelBaseline":"middle","labelPadding":-1.5}},
       "color":{"field":"c","type":"nominal","scale":{"domain":["H","T"],"range":["#1f77c4","#d6302f"]},"legend":null},
       "size":{"field":"z","type":"quantitative","scale":{"type":"pow","exponent":2,"domain":[0,4],"range":[0,32]},"legend":null}
      }},
     {"transform":[{"filter":"datum.k=='l'"}],"mark":{"type":"line","strokeWidth":2.5,"interpolate":"monotone"},
      "encoding":{"x":{"field":"d","type":"temporal"},"y":{"field":"v","type":"quantitative"},"color":{"field":"c","type":"nominal"}}},
     {"transform":[{"filter":"datum.k=='b'"}],"mark":{"type":"circle","size":28,"opacity":1},
      "encoding":{"x":{"field":"d","type":"temporal"},"y":{"field":"v","type":"quantitative"},"color":{"field":"c","type":"nominal"}}},
     {"transform":[{"filter":"datum.k=='b' && datum.l"}],"mark":{"type":"point","shape":"M-1,-0.4583H1V0.4583H-1Z","size":576,"filled":true,"opacity":1,"xOffset":-14,"yOffset":-12.5},
      "encoding":{"x":{"field":"d","type":"temporal"},"y":{"field":"v","type":"quantitative"},"color":{"field":"c","type":"nominal"}}},
     {"transform":[{"filter":"datum.k=='b' && !datum.l"}],"mark":{"type":"point","shape":"M-1,-0.4583H1V0.4583H-1Z","size":576,"filled":true,"opacity":1,"xOffset":-14,"yOffset":12.5},
      "encoding":{"x":{"field":"d","type":"temporal"},"y":{"field":"v","type":"quantitative"},"color":{"field":"c","type":"nominal"}}},
     {"transform":[{"filter":"datum.k=='b' && datum.l"}],"mark":{"type":"text","fontSize":10,"fontWeight":"bold","color":"white","align":"center","baseline":"middle","xOffset":-14,"yOffset":-12.5},
      "encoding":{"x":{"field":"d","type":"temporal"},"y":{"field":"v","type":"quantitative"},"text":{"field":"p"}}},
     {"transform":[{"filter":"datum.k=='b' && !datum.l"}],"mark":{"type":"text","fontSize":10,"fontWeight":"bold","color":"white","align":"center","baseline":"middle","xOffset":-14,"yOffset":12.5},
      "encoding":{"x":{"field":"d","type":"temporal"},"y":{"field":"v","type":"quantitative"},"text":{"field":"p"}}},
     {"transform":[{"filter":"datum.k=='b' && datum.l"}],"mark":{"type":"text","fontSize":10.5,"fontWeight":"bold","align":"right","baseline":"middle","xOffset":-29,"yOffset":-12.5},
      "encoding":{"x":{"field":"d","type":"temporal"},"y":{"field":"v","type":"quantitative"},"text":{"field":"n"},"color":{"field":"c","type":"nominal"}}},
     {"transform":[{"filter":"datum.k=='b' && !datum.l"}],"mark":{"type":"text","fontSize":10.5,"fontWeight":"bold","align":"right","baseline":"middle","xOffset":-29,"yOffset":12.5},
      "encoding":{"x":{"field":"d","type":"temporal"},"y":{"field":"v","type":"quantitative"},"text":{"field":"n"},"color":{"field":"c","type":"nominal"}}}
    ]
   }
  },
  {
   "width":623,"height":1,
   "view":{"fill":"transparent","stroke":null},
   "title":{"text":"资料来源：New York Times、开源证券研究所","orient":"bottom","frame":"bounds","font":"Liberation Serif, Noto Sans CJK SC","fontSize":10.5,"fontWeight":"normal","color":"#222222","offset":3},
   "data":{"values":[{}]},
   "mark":{"type":"rule","color":"#707070","strokeWidth":1.3,"xOffset":-7},
   "encoding":{
    "x":{"datum":0,"type":"quantitative","scale":{"domain":[0,1]},"axis":null},
    "x2":{"datum":1},
    "y":{"datum":1,"type":"quantitative","scale":{"domain":[0,1]},"axis":null}
   }
  }
 ]
}
]
}
